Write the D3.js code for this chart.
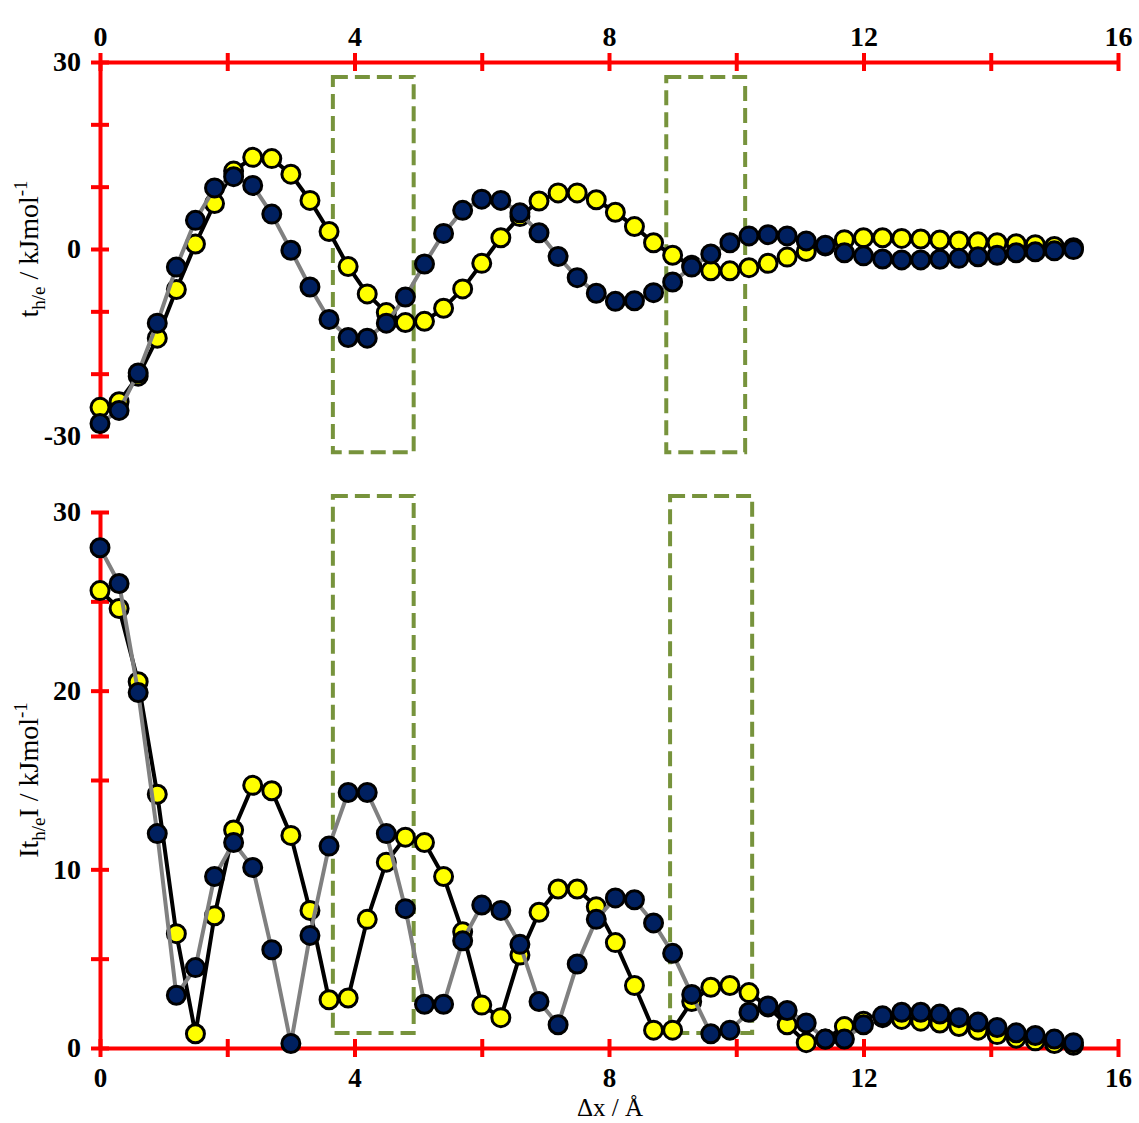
<!DOCTYPE html>
<html><head><meta charset="utf-8">
<script src="https://cdn.jsdelivr.net/npm/d3@7"></script>
<style>
body{margin:0;background:#fff;}
svg{display:block;font-family:"Liberation Serif","Times New Roman",serif;}
</style></head>
<body><svg id="c" width="1139" height="1123"></svg>
<script>
const xVals = [0,0.3,0.6,0.9,1.2,1.5,1.8,2.1,2.4,2.7,3.0,3.3,3.6,3.9,4.2,4.5,4.8,5.1,5.4,5.7,6.0,6.3,6.6,6.9,7.2,7.5,7.8,8.1,8.4,8.7,9.0,9.3,9.6,9.9,10.2,10.5,10.8,11.1,11.4,11.7,12.0,12.3,12.6,12.9,13.2,13.5,13.8,14.1,14.4,14.7,15.0,15.3];
const topYellow = [-25.4,-24.5,-20.4,-14.3,-6.5,0.8,7.3,12.5,14.7,14.5,12.0,7.8,2.8,-2.8,-7.2,-10.2,-11.8,-11.6,-9.5,-6.4,-2.3,1.8,5.2,7.7,9.0,9.0,7.9,5.9,3.6,1.0,-1.0,-2.6,-3.5,-3.5,-3.0,-2.3,-1.3,-0.4,0.5,1.5,1.8,1.8,1.7,1.6,1.45,1.3,1.15,1.0,0.85,0.7,0.4,0.2];
const topNavy = [-28.0,-25.9,-19.9,-11.9,-2.9,4.6,9.8,11.6,10.2,5.6,-0.2,-6.1,-11.3,-14.2,-14.3,-11.9,-7.7,-2.4,2.5,6.2,8.0,7.8,5.8,2.6,-1.2,-4.6,-7.1,-8.4,-8.3,-7.0,-5.3,-2.9,-0.8,1.0,2.1,2.3,2.1,1.3,0.6,-0.6,-1.1,-1.6,-1.75,-1.75,-1.65,-1.5,-1.25,-1.0,-0.6,-0.45,-0.3,-0.1];
const botYellow = [25.6,24.6,20.5,14.2,6.4,0.8,7.4,12.2,14.7,14.4,11.9,7.7,2.7,2.8,7.2,10.4,11.8,11.5,9.6,6.5,2.4,1.7,5.2,7.6,8.9,8.9,7.9,5.9,3.5,1.0,1.0,2.6,3.4,3.5,3.1,2.3,1.3,0.3,0.5,1.2,1.5,1.7,1.6,1.5,1.4,1.2,1.0,0.75,0.55,0.4,0.25,0.15];
const botNavy = [28.0,26.0,19.9,12.0,2.95,4.5,9.6,11.5,10.1,5.5,0.25,6.3,11.3,14.3,14.3,12.0,7.8,2.45,2.45,6.0,8.0,7.7,5.8,2.6,1.3,4.7,7.2,8.4,8.3,7.0,5.3,3.0,0.8,1.0,2.0,2.35,2.1,1.4,0.5,0.5,1.3,1.8,2.0,2.0,1.9,1.7,1.45,1.15,0.85,0.7,0.5,0.3];
const xTicks = [0,2,4,6,8,10,12,14,16];
const topYTicks = [-30,-20,-10,0,10,20,30];
const botYTicks = [0,5,10,15,20,25,30];
// highlight boxes: [x0,x1,y0,y1] in data units
const topBoxes = [[3.66,4.93,-32.6,27.6],[8.9,10.14,-32.6,27.6]];
const botBoxes = [[3.66,4.93,0.84,30.9],[8.96,10.25,0.84,30.9]];

const svg = d3.select("#c");
const x = d3.scaleLinear([0,16],[100,1118]);
const yT = d3.scaleLinear([-30,30],[436,62]);
const yB = d3.scaleLinear([0,30],[1048,512]);
const RED = "#FF0000", GREEN = "#77933C", NAVY = "#002060", YEL = "#FFFF00";
const FONT = '"Liberation Serif","Times New Roman",serif';

function styleAxis(g, horizontal){
  g.select(".domain").attr("stroke",RED).attr("stroke-width",4);
  g.selectAll(".tick line").attr("stroke",RED).attr("stroke-width",4);
  if(horizontal) g.selectAll(".tick line").attr("y1",-9).attr("y2",9);
  else g.selectAll(".tick line").attr("x1",-9).attr("x2",9);
  g.selectAll(".tick text").attr("fill","#000").attr("font-size",28).attr("font-weight","bold")
    .attr("font-family",FONT);
}

function drawBoxes(boxes, y){
  svg.append("g").selectAll("rect").data(boxes).join("rect")
    .attr("x",d=>x(d[0])).attr("width",d=>x(d[1])-x(d[0]))
    .attr("y",d=>y(d[3])).attr("height",d=>y(d[2])-y(d[3]))
    .attr("fill","none").attr("stroke",GREEN).attr("stroke-width",4).attr("stroke-dasharray","15,7");
}
drawBoxes(topBoxes,yT);
drawBoxes(botBoxes,yB);

// top panel axes
const gTx = svg.append("g").attr("transform",`translate(0,${yT(30)})`)
  .call(d3.axisTop(x).tickValues(xTicks).tickSizeOuter(0).tickFormat(d=>d%4===0?d:""));
styleAxis(gTx,true);
gTx.selectAll(".tick text").attr("y",-16);
const gTy = svg.append("g").attr("transform",`translate(${x(0)},0)`)
  .call(d3.axisLeft(yT).tickValues(topYTicks).tickSizeOuter(0).tickFormat(d=>Math.abs(d)===30||d===0?d:""));
styleAxis(gTy,false);
gTy.selectAll(".tick text").attr("x",-19);

// bottom panel axes
const gBx = svg.append("g").attr("transform",`translate(0,${yB(0)})`)
  .call(d3.axisBottom(x).tickValues(xTicks).tickSizeOuter(0).tickFormat(d=>d%4===0?d:""));
styleAxis(gBx,true);
gBx.selectAll(".tick text").attr("y",20).attr("font-size",27);
const gBy = svg.append("g").attr("transform",`translate(${x(0)},0)`)
  .call(d3.axisLeft(yB).tickValues(botYTicks).tickSizeOuter(0).tickFormat(d=>d%10===0?d:""));
styleAxis(gBy,false);
gBy.selectAll(".tick text").attr("x",-19);

// series
function drawSeries(vals, y, lineColor, fill){
  const pts = xVals.map((v,i)=>[v,vals[i]]);
  svg.append("path").datum(pts)
    .attr("d",d3.line().x(d=>x(d[0])).y(d=>y(d[1])))
    .attr("fill","none").attr("stroke",lineColor).attr("stroke-width",4).attr("stroke-linejoin","round");
  svg.append("g").selectAll("circle").data(pts).join("circle")
    .attr("cx",d=>x(d[0])).attr("cy",d=>y(d[1])).attr("r",9)
    .attr("fill",fill).attr("stroke","#000").attr("stroke-width",3);
}
drawSeries(topYellow,yT,"#000",YEL);
drawSeries(topNavy,yT,"#808080",NAVY);
drawSeries(botYellow,yB,"#000",YEL);
drawSeries(botNavy,yB,"#808080",NAVY);

// titles
const t1 = svg.append("text").attr("transform",`translate(38,249) rotate(-90)`)
  .attr("text-anchor","middle").attr("font-size",28);
t1.append("tspan").text("t");
t1.append("tspan").attr("font-size",19).attr("dy",7).text("h/e");
t1.append("tspan").attr("dy",-7).text(" / kJmol");
t1.append("tspan").attr("font-size",19).attr("dy",-11).text("-1");

const t2 = svg.append("text").attr("transform",`translate(38,780) rotate(-90)`)
  .attr("text-anchor","middle").attr("font-size",28);
t2.append("tspan").text("It");
t2.append("tspan").attr("font-size",19).attr("dy",7).text("h/e");
t2.append("tspan").attr("dy",-7).text("I / kJmol");
t2.append("tspan").attr("font-size",19).attr("dy",-11).text("-1");

svg.append("text").attr("x",610).attr("y",1116).attr("text-anchor","middle")
  .attr("font-size",25).text("Δx / Å");
</script></body></html>
